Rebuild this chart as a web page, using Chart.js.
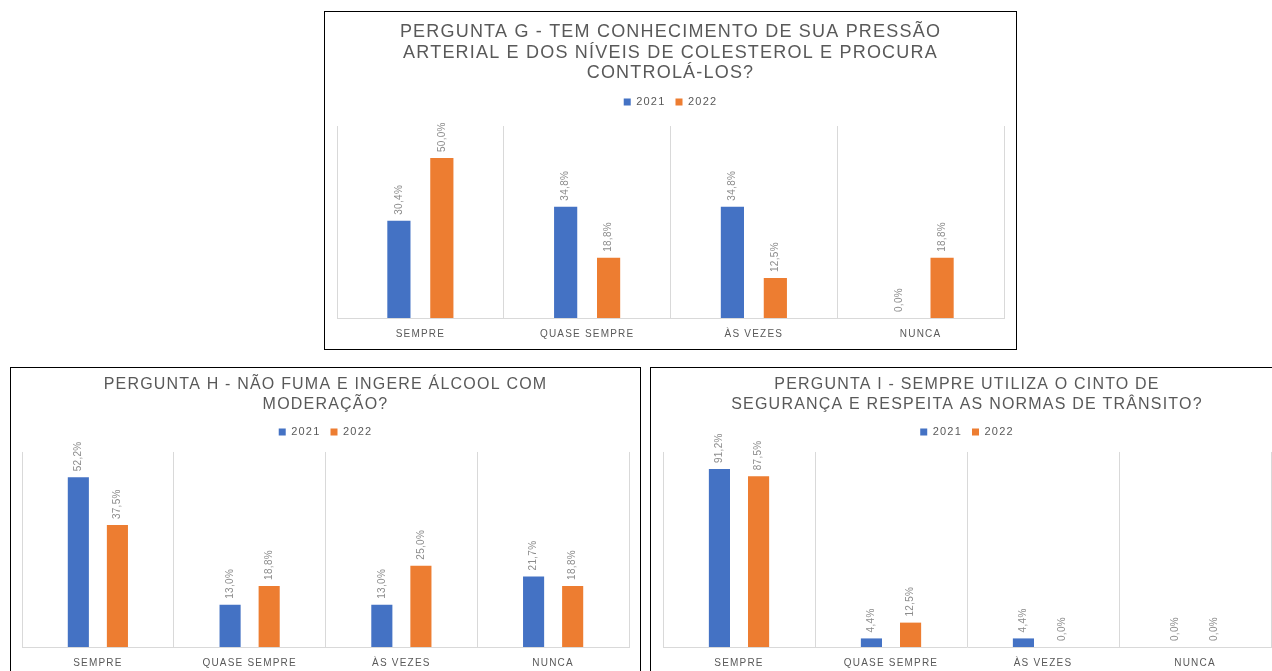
<!DOCTYPE html>
<html lang="pt-BR">
<head>
<meta charset="utf-8">
<title>Perguntas G, H e I</title>
<script src="https://cdn.jsdelivr.net/npm/chart.js@4.4.1/dist/chart.umd.min.js"></script>
<style>
  html, body { margin: 0; padding: 0; background: #fff; overflow: hidden; }
  body { width: 1272px; height: 671px; position: relative; }
  .box { position: absolute; border: 1px solid #000; box-sizing: border-box; background: #fff; }
  .box canvas { display: block; }
  #boxG { left: 324px; top: 11px; width: 693px; height: 339px; }
  #boxH { left: 10px; top: 367px; width: 631px; height: 330px; }
  #boxI { left: 650px; top: 367px; width: 634px; height: 330px; }
</style>
</head>
<body>
<div class="box" id="boxG"><canvas id="chartG" width="691" height="337"></canvas></div>
<div class="box" id="boxH"><canvas id="chartH" width="629" height="328"></canvas></div>
<div class="box" id="boxI"><canvas id="chartI" width="632" height="328"></canvas></div>

<script>
const categories = ['SEMPRE', 'QUASE SEMPRE', 'ÀS VEZES', 'NUNCA']
const years = ['2021', '2022']

const titleG = ['PERGUNTA G - TEM CONHECIMENTO DE SUA PRESSÃO', 'ARTERIAL E DOS NÍVEIS DE COLESTEROL E PROCURA', 'CONTROLÁ-LOS?']
const g2021 = [30.4, 34.8, 34.8, 0.0]
const g2022 = [50.0, 18.8, 12.5, 18.8]

const titleH = ['PERGUNTA H - NÃO FUMA E INGERE ÁLCOOL COM', 'MODERAÇÃO?']
const h2021 = [52.2, 13.0, 13.0, 21.7]
const h2022 = [37.5, 18.8, 25.0, 18.8]

const titleI = ['PERGUNTA I - SEMPRE UTILIZA O CINTO DE', 'SEGURANÇA E RESPEITA AS NORMAS DE TRÂNSITO?']
const i2021 = [91.2, 4.4, 4.4, 0.0]
const i2022 = [87.5, 12.5, 0.0, 0.0]

const BLUE = '#4472C4'
const ORANGE = '#ED7D31'
const TEXT = '#595959'
const GRID = '#d9d9d9'
const FONT = '"Liberation Sans", Arial, sans-serif'

// wider tracking for titles, legend and category labels
const letterSpacing = {
	id: 'letterSpacing',
	beforeUpdate(chart) { chart.ctx.letterSpacing = '1.2px' },
	beforeDraw(chart) { chart.ctx.letterSpacing = '1.2px' },
}

// extra room between legend and plot area
const legendMargin = {
	id: 'legendMargin',
	beforeInit(chart, args, opts) {
		const fit = chart.legend.fit
		chart.legend.fit = function () {
			fit.call(this)
			this.height += opts.extra || 0
		}
	},
}

// rotated percentage above every bar
const barValueLabels = {
	id: 'barValueLabels',
	afterDatasetsDraw(chart) {
		const { ctx } = chart
		ctx.save()
		ctx.letterSpacing = '0.3px'
		ctx.font = '10px ' + FONT
		ctx.fillStyle = '#8c8c8c'
		ctx.textAlign = 'left'
		ctx.textBaseline = 'middle'
		chart.data.datasets.forEach((ds, i) => {
			chart.getDatasetMeta(i).data.forEach((bar, j) => {
				ctx.save()
				ctx.translate(bar.x, bar.y - 6)
				ctx.rotate(-Math.PI / 2)
				ctx.fillText(ds.data[j].toFixed(1).replace('.', ',') + '%', 0, 0)
				ctx.restore()
			})
		})
		ctx.restore()
	},
}

function makeChart(id, title, a, b, yMax, look) {
	return new Chart(document.getElementById(id), {
		type: 'bar',
		data: {
			labels: categories,
			datasets: [
				{ label: years[0], data: a, backgroundColor: BLUE },
				{ label: years[1], data: b, backgroundColor: ORANGE },
			],
		},
		options: {
			responsive: false,
			animation: false,
			categoryPercentage: 0.515,
			barPercentage: 0.54,
			layout: { padding: look.padding },
			scales: {
				x: {
					grid: { color: GRID, drawTicks: false },
					border: { color: GRID },
					ticks: { color: TEXT, font: { family: FONT, size: 10 }, padding: 10, maxRotation: 0, autoSkip: false },
				},
				y: { display: false, min: 0, max: yMax },
			},
			plugins: {
				title: {
					display: true,
					text: title,
					color: TEXT,
					font: { family: FONT, size: look.titleSize, weight: 'normal', lineHeight: look.titleLine },
					padding: look.titlePadding,
				},
				legend: {
					labels: { color: TEXT, font: { family: FONT, size: 11 }, boxWidth: 7, boxHeight: 7, padding: 10 },
				},
				legendMargin: { extra: look.legendExtra },
				tooltip: { enabled: false },
			},
		},
		plugins: [letterSpacing, legendMargin, barValueLabels],
	})
}

makeChart('chartG', titleG, g2021, g2022, 60, {
	titleSize: 18, titleLine: 1.14, titlePadding: { top: 10, bottom: 3 },
	legendExtra: 8.5, padding: { left: 12, right: 12, top: 0, bottom: -1 },
})
makeChart('chartH', titleH, h2021, h2022, 60, {
	titleSize: 16, titleLine: 1.28, titlePadding: { top: 6, bottom: 1.5 },
	legendExtra: 4.5, padding: { left: 11, right: 11, top: 0, bottom: 17 },
})
makeChart('chartI', titleI, i2021, i2022, 100, {
	titleSize: 16, titleLine: 1.28, titlePadding: { top: 6, bottom: 1.5 },
	legendExtra: 4.5, padding: { left: 12, right: 12, top: 0, bottom: 17 },
})
</script>
</body>
</html>
